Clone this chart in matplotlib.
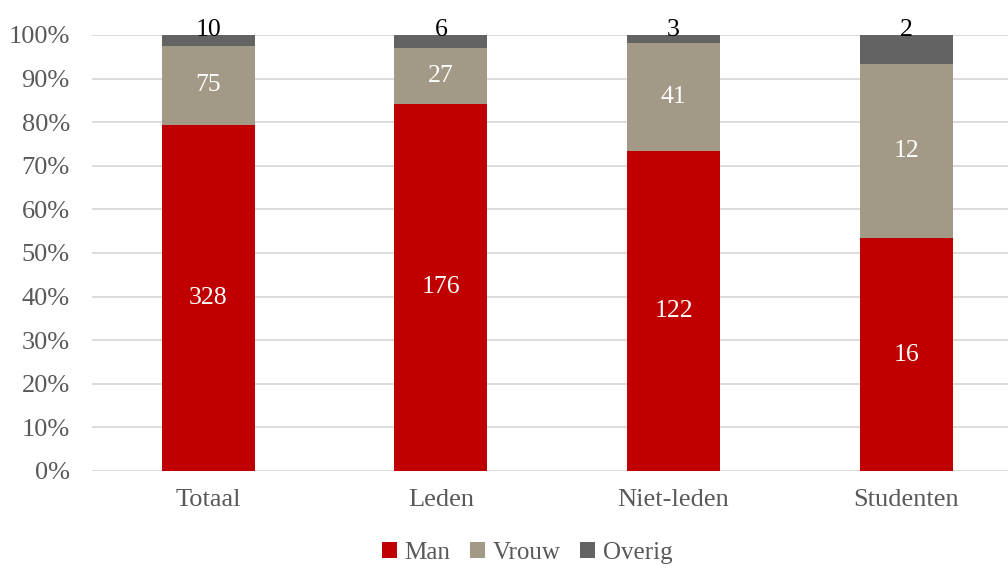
import numpy as np
import matplotlib
matplotlib.use("Agg")
import matplotlib.pyplot as plt

categories = ["Totaal", "Leden", "Niet-leden", "Studenten"]
man = [328, 176, 122, 16]
vrouw = [75, 27, 41, 12]
overig = [10, 6, 3, 2]

colors = ["#C00000", "#A29A86", "#636363"]
plt.rcParams['font.family'] = ['Liberation Serif', 'DejaVu Serif']

counts = np.array([man, vrouw, overig], dtype=float)
share = counts / counts.sum(axis=0)

fig = plt.figure(figsize=(10.08, 5.68), dpi=100)
ax = fig.add_axes([0.0913, 0.1708, 0.9087, 0.7676])

x = np.arange(len(categories))
bottom = np.zeros(len(categories))
names = ["Man", "Vrouw", "Overig"]
for i in range(3):
    ax.bar(x, share[i], 0.4, bottom=bottom, color=colors[i], label=names[i], zorder=2)
    for j in range(len(categories)):
        if i < 2:
            ax.text(x[j], bottom[j] + share[i][j] / 2, str(int(counts[i][j])),
                    ha='center', va='center', color='white', fontsize=18.5)
        else:
            ax.annotate(str(int(counts[i][j])), (x[j], 1.0), xytext=(0, -4),
                        textcoords='offset points', ha='center', va='bottom',
                        color='black', fontsize=18.5)
    bottom += share[i]

ax.set_ylim(0, 1)
ax.set_xlim(-0.5, 3.438)
ax.set_yticks(np.arange(0, 1.01, 0.1))
ax.set_yticklabels(["%d%%" % v for v in range(0, 101, 10)])
ax.set_xticks(x)
ax.set_xticklabels(categories)
ax.yaxis.grid(True, color="#D9D9D9", linewidth=1.3, zorder=0)
ax.set_axisbelow(True)
for s in ax.spines.values():
    s.set_visible(False)
ax.tick_params(axis='both', length=0, labelsize=19, labelcolor="#595959")
ax.tick_params(axis='x', pad=13)
ax.tick_params(axis='y', pad=16)

fig.legend(loc='lower center', bbox_to_anchor=(0.523, -0.033), ncol=3, frameon=False,
           fontsize=18, handlelength=0.6, handleheight=0.6, handletextpad=0.3,
           columnspacing=0.8, labelcolor="#595959")

fig.savefig("out.png", dpi=100)
